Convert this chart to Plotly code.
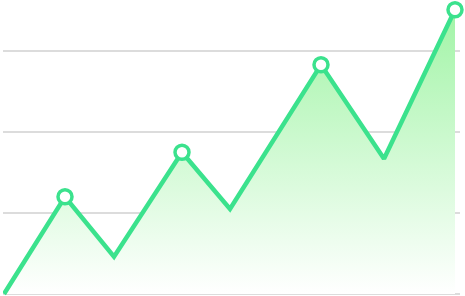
import plotly.graph_objects as go

x_vals = [1, 62, 111, 179, 227, 318, 381, 452]
y_vals = [0, 120, 46, 175, 105, 283, 167, 351]
peak_idx = [1, 3, 5, 7]

line_color = "#3be28d"

fig = go.Figure()
fig.add_trace(go.Scatter(
    x=x_vals, y=y_vals, mode="lines",
    line=dict(color=line_color, width=4.5),
    fill="tozeroy",
    fillgradient=dict(type="vertical",
                      colorscale=[[0, "rgba(255,255,255,1)"], [1, "rgba(160,244,165,1)"]],
                      start=0, stop=355),
    hoverinfo="skip",
))
fig.add_trace(go.Scatter(
    x=[x_vals[i] for i in peak_idx], y=[y_vals[i] for i in peak_idx],
    mode="markers",
    marker=dict(size=14, color="white", line=dict(color=line_color, width=3.5)),
    cliponaxis=False,
))
fig.update_layout(
    width=465, height=296,
    margin=dict(l=3, r=5, t=0, b=0),
    paper_bgcolor="white", plot_bgcolor="white",
    showlegend=False,
    xaxis=dict(range=[0, 457], visible=False, showgrid=False, zeroline=False),
    yaxis=dict(range=[-2.5, 363], showgrid=True, gridcolor="#dcdcdc", gridwidth=1.5,
               dtick=100, tick0=0, zeroline=False, showticklabels=False, ticks=""),
)
fig.write_html("out.html")
